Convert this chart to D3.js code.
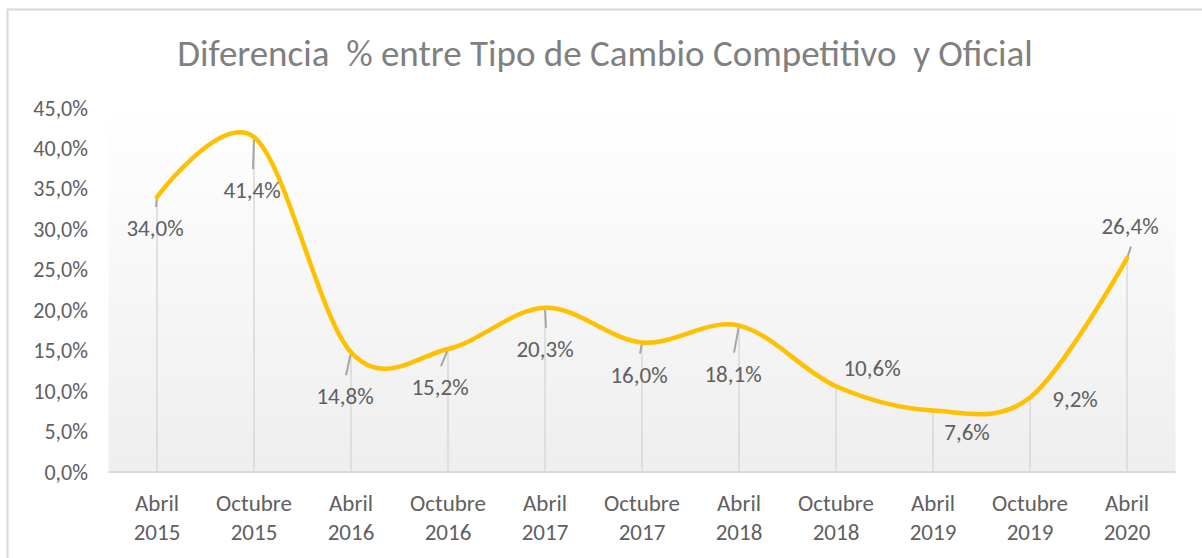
<!DOCTYPE html>
<html>
<head>
<meta charset="utf-8">
<script src="https://cdn.jsdelivr.net/npm/d3@7"></script>
<style>
  html, body { margin: 0; padding: 0; background: #ffffff; }
  svg { display: block; }
  text { font-family: Carlito, Lato, "Open Sans", sans-serif; font-weight: 300; }
</style>
</head>
<body>
<svg id="chart" width="1202" height="558"></svg>
<script>
// ---- data ----
const categories = [
  ["Abril", "2015"], ["Octubre", "2015"], ["Abril", "2016"], ["Octubre", "2016"],
  ["Abril", "2017"], ["Octubre", "2017"], ["Abril", "2018"], ["Octubre", "2018"],
  ["Abril", "2019"], ["Octubre", "2019"], ["Abril", "2020"]
];
const values = [34.0, 41.4, 14.8, 15.2, 20.3, 16.0, 18.1, 10.6, 7.6, 9.2, 26.4];
const yTicks = [0, 5, 10, 15, 20, 25, 30, 35, 40, 45];
const titleText = "Diferencia  % entre Tipo de Cambio Competitivo  y Oficial";
// data label placement (offset of label centre from point, px)
const labelOffsets = [
  [-2, 31], [-2, 53], [-6, 44], [-8, 38], [0, 41], [-3, 32],
  [-6, 48], [36, -18], [34, 21], [45, 1], [3, -33]
];

// ---- layout ----
const svg = d3.select("#chart");
const plot = { left: 108.5, right: 1175.5, top: 108, bottom: 472 };

const x = d3.scaleBand()
  .domain(d3.range(categories.length))
  .range([plot.left, plot.right])
  .padding(0);
const y = d3.scaleLinear().domain([0, 45]).range([plot.bottom, plot.top]);
const cx = i => x(i) + x.bandwidth() / 2;
const fmt = v => d3.format(".1f")(v).replace(".", ",") + "%";

// outer chart border
svg.append("rect")
  .attr("x", 7.5).attr("y", 9.5).attr("width", 1210).attr("height", 570)
  .attr("fill", "#ffffff").attr("stroke", "#d9d9d9").attr("stroke-width", 2);

// plot area gradient
const defs = svg.append("defs");
const grad = defs.append("linearGradient").attr("id", "bg")
  .attr("x1", 0).attr("y1", 0).attr("x2", 0).attr("y2", 1);
grad.append("stop").attr("offset", "0%").attr("stop-color", "#ffffff");
grad.append("stop").attr("offset", "100%").attr("stop-color", "#eeeeee");
svg.append("rect")
  .attr("x", plot.left).attr("y", plot.top)
  .attr("width", plot.right - plot.left).attr("height", plot.bottom - plot.top)
  .attr("fill", "url(#bg)");

// title
svg.append("text")
  .attr("x", 605).attr("y", 53)
  .attr("dy", "0.35em")
  .attr("text-anchor", "middle")
  .attr("fill", "#808080")
  .attr("font-size", 37)
  .style("white-space", "pre")
  .text(titleText);

// y axis labels
const yAxis = d3.axisLeft(y).tickValues(yTicks).tickSize(0).tickPadding(0)
  .tickFormat(d => fmt(d));
const yg = svg.append("g").attr("transform", `translate(88,0)`).call(yAxis);
yg.select(".domain").remove();
yg.selectAll("text")
  .attr("fill", "#606060").attr("font-size", 22)
  .style("font-family", "Carlito, Lato, 'Open Sans', sans-serif")
  .style("font-weight", 300);

// drop lines
svg.append("g").selectAll("line").data(values).join("line")
  .attr("x1", (d, i) => cx(i)).attr("x2", (d, i) => cx(i))
  .attr("y1", y(0)).attr("y2", d => y(d))
  .attr("stroke", "#d9d9d9").attr("stroke-width", 1.5);

// baseline
svg.append("line")
  .attr("x1", plot.left).attr("x2", plot.right)
  .attr("y1", y(0)).attr("y2", y(0))
  .attr("stroke", "#d9d9d9").attr("stroke-width", 2);

// x axis labels
const xAxis = d3.axisBottom(x).tickSize(0).tickFormat("");
const xg = svg.append("g").attr("transform", `translate(0,${y(0)})`).call(xAxis);
xg.select(".domain").remove();
xg.selectAll(".tick").each(function(i) {
  const t = d3.select(this).append("text")
    .attr("text-anchor", "middle").attr("fill", "#606060").attr("font-size", 23);
  t.append("tspan").attr("x", 0).attr("y", 31).attr("dy", "0.35em").text(categories[i][0]);
  t.append("tspan").attr("x", 0).attr("y", 60).attr("dy", "0.35em").text(categories[i][1]);
});

// leader lines (only for labels placed far from their point)
const leaders = values.map((v, i) => ({ v, i })).filter(o => Math.abs(labelOffsets[o.i][1]) >= 30);
svg.append("g").selectAll("line").data(leaders).join("line")
  .attr("x1", o => cx(o.i)).attr("y1", o => y(o.v))
  .attr("x2", o => cx(o.i) + labelOffsets[o.i][0] + 1)
  .attr("y2", o => y(o.v) + labelOffsets[o.i][1] - 21 * Math.sign(labelOffsets[o.i][1]))
  .attr("stroke", "#a6a6a6").attr("stroke-width", 2);

// line
const line = d3.line()
  .x((d, i) => cx(i)).y(d => y(d))
  .curve(d3.curveCatmullRom.alpha(0));
svg.append("path").datum(values)
  .attr("d", line)
  .attr("fill", "none")
  .attr("stroke", "#ffc000")
  .attr("stroke-width", 4.5)
  .attr("stroke-linecap", "round")
  .attr("stroke-linejoin", "round");

// data labels
svg.append("g").selectAll("text").data(values).join("text")
  .attr("x", (d, i) => cx(i) + labelOffsets[i][0])
  .attr("y", (d, i) => y(d) + labelOffsets[i][1])
  .attr("dy", "0.35em")
  .attr("text-anchor", "middle")
  .attr("fill", "#606060")
  .attr("font-size", 23)
  .text(d => fmt(d));
</script>
</body>
</html>
